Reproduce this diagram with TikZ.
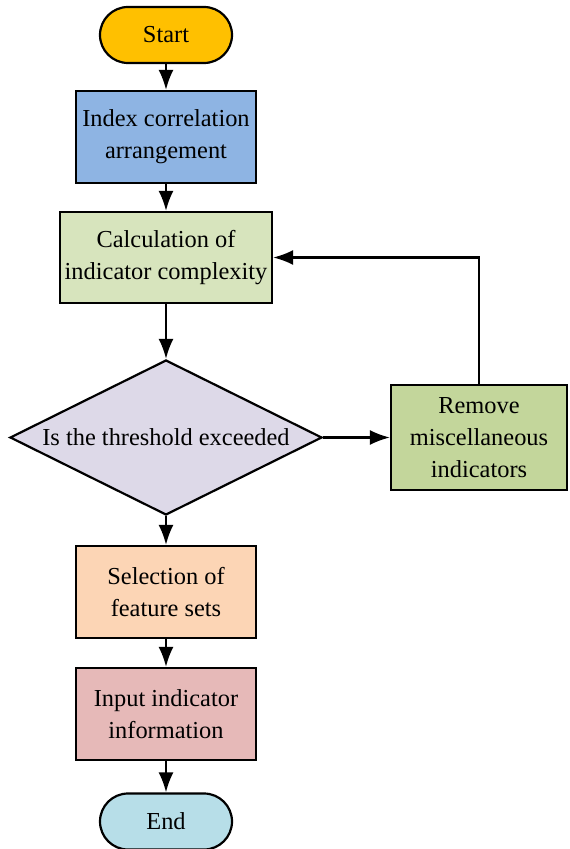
\documentclass[tikz,border=0pt]{standalone}
\usepackage{fontspec}
\setmainfont{Liberation Serif}
\usepackage{xcolor}
\usetikzlibrary{shapes.geometric}
\usetikzlibrary{arrows.meta}
\definecolor{startcol}{HTML}{FFC000}
\definecolor{indexcol}{HTML}{8EB4E3}
\definecolor{calccol}{HTML}{D7E4BD}
\definecolor{threshcol}{HTML}{DDD9E8}
\definecolor{removecol}{HTML}{C3D69B}
\definecolor{selectcol}{HTML}{FCD5B5}
\definecolor{inputcol}{HTML}{E6B9B8}
\definecolor{endcol}{HTML}{B7DEE8}

\begin{document}
\begin{tikzpicture}[x=0.5pt,y=-0.5pt,
  box/.style={draw,line width=1.1pt,align=center,inner sep=0pt,font=\fontsize{12.2}{16}\selectfont},
  term/.style={box,rounded corners=14pt,minimum width=66pt,minimum height=28pt},
  proc/.style={box,minimum width=90pt,minimum height=46pt},
  arr/.style={line width=1.1pt,-{Latex[length=10pt,width=7.5pt]}}]
  \useasboundingbox (0,0) rectangle (569,849);
  \node[term,fill=startcol] (start) at (166,35) {Start};
  \node[proc,fill=indexcol] (index) at (166,137) {Index correlation\\arrangement};
  \node[proc,fill=calccol,minimum width=106pt,minimum height=45.5pt] (calc) at (166,257.5) {Calculation of\\indicator complexity};
  \node[box,diamond,aspect=2,fill=threshcol,minimum width=156pt,minimum height=77.5pt] (thresh) at (166,437.5) {Is the threshold exceeded};
  \node[proc,fill=removecol,minimum width=88pt,minimum height=52.5pt] (remove) at (479,437.5) {Remove\\miscellaneous\\indicators};
  \node[proc,fill=selectcol] (select) at (166,592) {Selection of\\feature sets};
  \node[proc,fill=inputcol] (input) at (166,714) {Input indicator\\information};
  \node[term,fill=endcol] (end) at (166,821.5) {End};
  \draw[arr] (start) -- (index);
  \draw[arr] (index) -- (calc);
  \draw[arr] (calc) -- (thresh);
  \draw[arr] (thresh) -- (remove);
  \draw[arr] (remove.north) |- (calc.east);
  \draw[arr] (thresh) -- (select);
  \draw[arr] (select) -- (input);
  \draw[arr] (input) -- (end);
\end{tikzpicture}
\end{document}
